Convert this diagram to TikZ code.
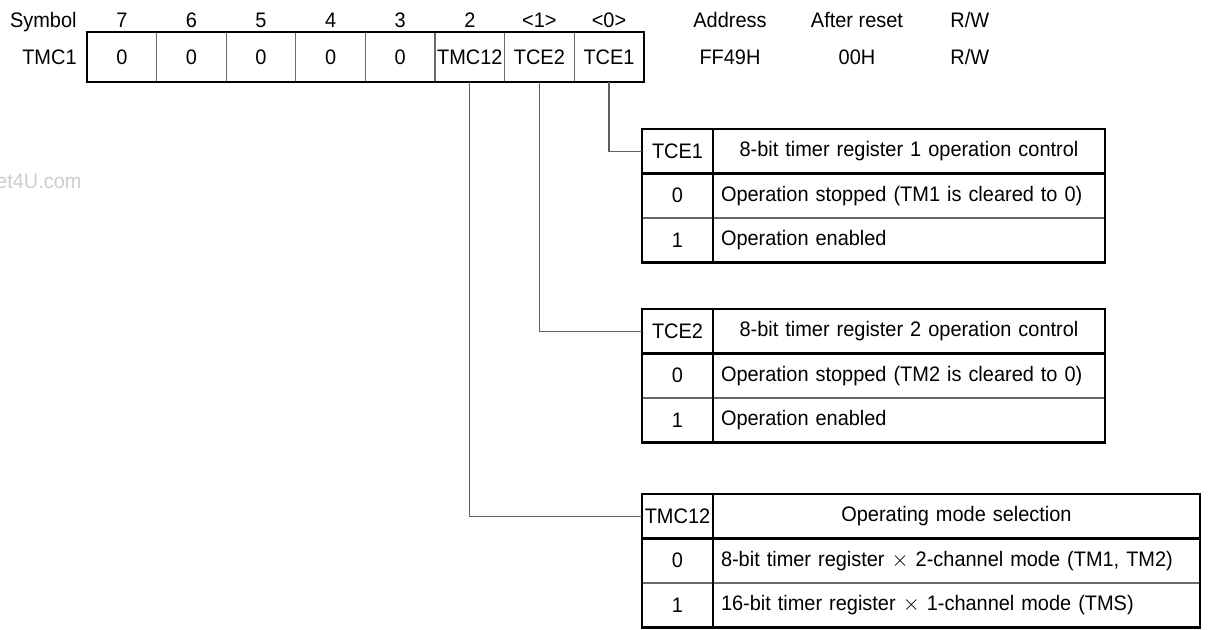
\documentclass[tikz,border=0pt]{standalone}
\usepackage{fontspec}
\setmainfont{Liberation Sans}[FakeStretch=0.95]
\usepackage{tikz}
\usetikzlibrary{positioning}
\definecolor{regGray}{RGB}{105,105,105}
\definecolor{wireGray}{RGB}{95,95,95}
\definecolor{markGray}{RGB}{205,205,205}
\tikzset{
    regcell/.style={draw=regGray, line width=0.6pt, minimum width=34.8pt, minimum height=25pt, inner sep=0pt, outer sep=0pt},
    keycell/.style={draw=regGray, line width=0.6pt, minimum width=35.5pt, minimum height=22.25pt, inner sep=0pt, outer sep=0pt},
    desccell/.style={draw=regGray, line width=0.6pt, minimum height=22.25pt, inner xsep=4pt, inner ysep=0pt, outer sep=0pt},
    lbl/.style={inner sep=0pt},
    frame/.style={line width=1.3pt, line cap=rect},
    wire/.style={wireGray, line width=0.6pt},
}

\begin{document}
\begin{tikzpicture}[x=0.5pt,y=-0.5pt, every node/.append style={font=\fontsize{10.5}{12.6}\selectfont}]
    \useasboundingbox (0,0) rectangle (1217,629);

    \node[lbl, text=markGray, anchor=base east] (mark) at (82,188) {et4U.com};

    % register TMC1
    \node[lbl, anchor=base east] (sym) at (77,27) {Symbol};
    \node[lbl, anchor=base east] (reg) at (77,64) {TMC1};
    \node[regcell] (r7) at (121.8,57) {0};
    \foreach \b [evaluate=\b as \p using int(\b+1)] in {6,5,4,3}
        \node[regcell, right=0pt of r\p] (r\b) {0};
    \node[regcell, right=0pt of r3] (r2) {TMC12};
    \node[regcell, right=0pt of r2] (r1) {TCE2};
    \node[regcell, right=0pt of r1] (r0) {TCE1};
    \draw[frame] (r7.north west) rectangle (r0.south east);
    \foreach \b/\t in {7/7,6/6,5/5,4/4,3/3,2/2,1/<1>,0/<0>}
        \node[lbl, anchor=base] (n\b) at (r\b.center |- 0,27) {\t};

    \node[lbl, anchor=base] (addr) at (730,27) {Address};
    \node[lbl, anchor=base] (addrv) at (730,64) {FF49H};
    \node[lbl, anchor=base] (rst) at (857,27) {After reset};
    \node[lbl, anchor=base] (rstv) at (857,64) {00H};
    \node[lbl, anchor=base west] (rw) at (950,27) {R/W};
    \node[lbl, anchor=base west] (rwv) at (950,64) {R/W};

    % TCE1
    \node[keycell] (t1k0) at (677.5,151.25) {TCE1};
    \node[keycell, below=0pt of t1k0] (t1k1) {0};
    \node[keycell, below=0pt of t1k1] (t1k2) {1};
    \node[desccell, text width=188pt, align=center, right=0pt of t1k0] (t1d0) {8-bit timer register 1 operation control};
    \node[desccell, text width=188pt, align=left, right=0pt of t1k1] (t1d1) {Operation stopped (TM1 is cleared to 0)};
    \node[desccell, text width=188pt, align=left, right=0pt of t1k2] (t1d2) {Operation enabled};

    % TCE2
    \node[keycell] (t2k0) at (677.5,331.25) {TCE2};
    \node[keycell, below=0pt of t2k0] (t2k1) {0};
    \node[keycell, below=0pt of t2k1] (t2k2) {1};
    \node[desccell, text width=188pt, align=center, right=0pt of t2k0] (t2d0) {8-bit timer register 2 operation control};
    \node[desccell, text width=188pt, align=left, right=0pt of t2k1] (t2d1) {Operation stopped (TM2 is cleared to 0)};
    \node[desccell, text width=188pt, align=left, right=0pt of t2k2] (t2d2) {Operation enabled};

    % TMC12
    \node[keycell] (t3k0) at (677.5,516.25) {TMC12};
    \node[keycell, below=0pt of t3k0] (t3k1) {0};
    \node[keycell, below=0pt of t3k1] (t3k2) {1};
    \node[desccell, text width=235.5pt, align=center, right=0pt of t3k0] (t3d0) {Operating mode selection};
    \node[desccell, text width=235.5pt, align=left, right=0pt of t3k1] (t3d1) {8-bit timer register $\times$ 2-channel mode (TM1, TM2)};
    \node[desccell, text width=235.5pt, align=left, right=0pt of t3k2] (t3d2) {16-bit timer register $\times$ 1-channel mode (TMS)};

    \foreach \t in {1,2,3} {
        \draw[frame] (t\t k0.north west) rectangle (t\t d2.south east);
        \draw[frame] (t\t k0.north east) -- (t\t k2.south east);
        \draw[frame] (t\t k0.south west) -- (t\t d0.south east);
    }

    \draw[wire] (r0.south) |- (t1k0.west);
    \draw[wire] (r1.south) |- (t2k0.west);
    \draw[wire] (r2.south) |- (t3k0.west);
\end{tikzpicture}
\end{document}
